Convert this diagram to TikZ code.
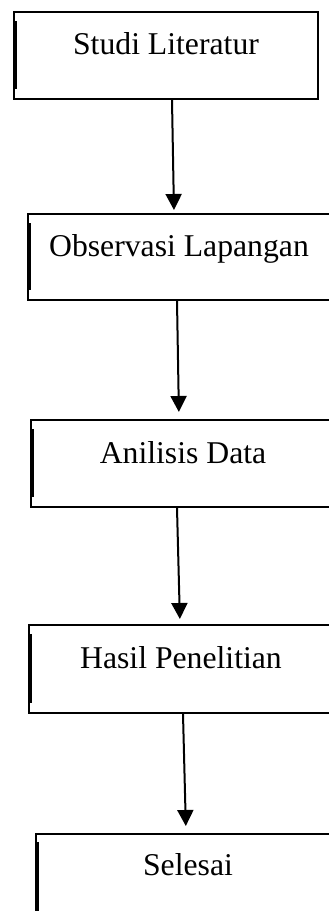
\documentclass[tikz,border=0pt]{standalone}
\usepackage{fontspec}
\setmainfont{Liberation Serif}
\usetikzlibrary{arrows.meta}

\tikzset{
  stagebox/.style={draw, line width=2pt, rectangle, inner sep=0pt,
    anchor=north west, minimum width=304pt,
    text height=42pt, text depth=45pt,
    font=\fontsize{31.7}{38}\selectfont},
  leftbar/.style={line width=3.6pt},
  flow/.style={line width=2pt, -{Triangle[width=16pt,length=16pt]}}
}

\begin{document}
\begin{tikzpicture}[x=1pt,y=-1pt]
  % page area
  \fill[white] (0,0) rectangle (329,911);
  \path[use as bounding box, clip] (0,0) rectangle (329,911);

  % process steps
  \node[stagebox] (b1) at (13,11)  {Studi Literatur};
  \node[stagebox, minimum width=302pt, text depth=44pt] (b2) at (27,213) {Observasi Lapangan};
  \node[stagebox, text height=43pt, text depth=44pt] (b3) at (30,419) {Anilisis Data};
  \node[stagebox, text height=43pt] (b4) at (28,624) {Hasil Penelitian};
  \node[stagebox, text height=41pt, text depth=47pt] (b5) at (35,833) {Selesai};

  % heavy strokes along the left sides
  \foreach \b in {b1,b2,b3,b4}{
    \draw[leftbar] ([xshift=1.8pt,yshift=-10pt]\b.north west) -- ([xshift=1.8pt,yshift=11pt]\b.south west);
  }
  \draw[leftbar] ([xshift=1.8pt,yshift=-9pt]b5.north west) -- ([xshift=1.8pt]b5.south west);

  % connectors
  \draw[flow, shorten >=3pt] ([xshift=6pt]b1.south) -- ([xshift=-5pt]b2.north);
  \draw[flow, shorten >=7pt] ([xshift=-2pt]b2.south) -- ([xshift=-4pt]b3.north);
  \draw[flow, shorten >=5pt] ([xshift=-6pt]b3.south) -- ([xshift=-1pt]b4.north);
  \draw[flow, shorten >=7pt] ([xshift=2pt]b4.south) -- ([xshift=-2pt]b5.north);
\end{tikzpicture}
\end{document}
